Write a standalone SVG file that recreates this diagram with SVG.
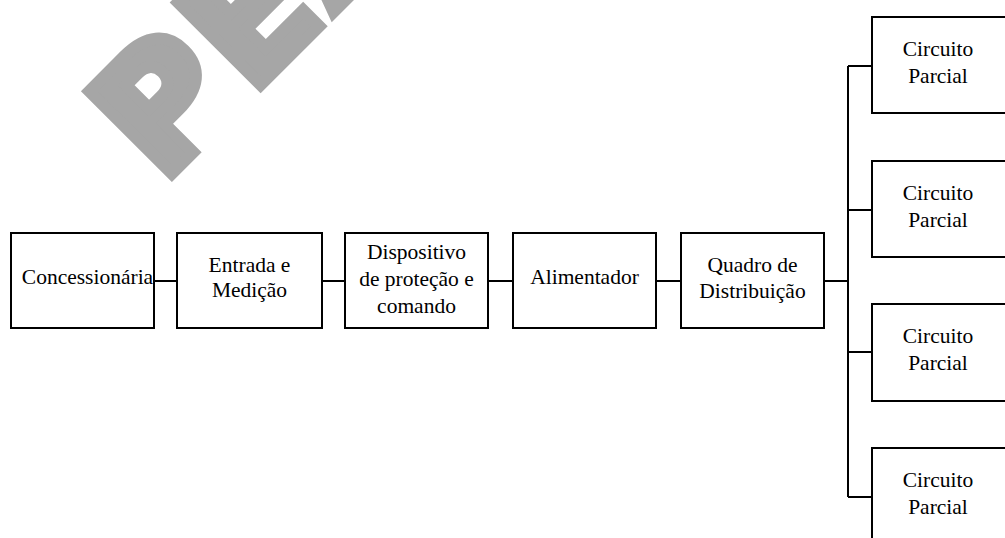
<svg xmlns="http://www.w3.org/2000/svg" width="1005" height="538" viewBox="0 0 1005 538">
<style>
.box{fill:#fff;stroke:#000;stroke-width:2}
.lbl{font-family:'Liberation Serif','DejaVu Serif','Noto Serif',serif;font-size:21.5px;fill:#000;text-anchor:middle}
.wire{fill:none;stroke:#000;stroke-width:2}
.wm{font-family:'DejaVu Sans',sans-serif;font-weight:bold;font-size:160px;fill:#a6a6a6;stroke:#a6a6a6;stroke-width:12;stroke-linejoin:miter;letter-spacing:8px}
</style>
<rect width="1005" height="538" fill="#fff"/>
<text class="wm" transform="translate(161.6,183.9) rotate(-45)">PEA</text>
<g id="connectors">
<path class="wire" d="M154,281H177M322,281H345M488,281H513M656,281H681M824,281H848"/>
<path class="wire" d="M848,66V497M848,66H872M848,210H872M848,352H872M848,497H872"/>
</g>
<g id="concessionaria">
<rect class="box" x="11" y="233" width="143" height="95"/>
<text class="lbl" font-family="Liberation Serif, serif" x="87.5" y="284">Concessionária</text>
</g>
<g id="entrada">
<rect class="box" x="177" y="233" width="145" height="95"/>
<text class="lbl" font-family="Liberation Serif, serif" x="249.5" y="272">Entrada e</text>
<text class="lbl" font-family="Liberation Serif, serif" x="249.5" y="297">Medição</text>
</g>
<g id="dispositivo">
<rect class="box" x="345" y="233" width="143" height="95"/>
<text class="lbl" font-family="Liberation Serif, serif" x="416.5" y="259">Dispositivo</text>
<text class="lbl" font-family="Liberation Serif, serif" x="416.5" y="286">de proteção e</text>
<text class="lbl" font-family="Liberation Serif, serif" x="416.5" y="313">comando</text>
</g>
<g id="alimentador">
<rect class="box" x="513" y="233" width="143" height="95"/>
<text class="lbl" font-family="Liberation Serif, serif" x="584.5" y="284">Alimentador</text>
</g>
<g id="quadro">
<rect class="box" x="681" y="233" width="143" height="95"/>
<text class="lbl" font-family="Liberation Serif, serif" x="752.5" y="272">Quadro de</text>
<text class="lbl" font-family="Liberation Serif, serif" x="752.5" y="298">Distribuição</text>
</g>
<g id="circuito1">
<rect class="box" x="872" y="17" width="145" height="96"/>
<text class="lbl" font-family="Liberation Serif, serif" x="938" y="56">Circuito</text>
<text class="lbl" font-family="Liberation Serif, serif" x="938" y="83">Parcial</text>
</g>
<g id="circuito2">
<rect class="box" x="872" y="161" width="145" height="96"/>
<text class="lbl" font-family="Liberation Serif, serif" x="938" y="200">Circuito</text>
<text class="lbl" font-family="Liberation Serif, serif" x="938" y="227">Parcial</text>
</g>
<g id="circuito3">
<rect class="box" x="872" y="304" width="145" height="97"/>
<text class="lbl" font-family="Liberation Serif, serif" x="938" y="343">Circuito</text>
<text class="lbl" font-family="Liberation Serif, serif" x="938" y="370">Parcial</text>
</g>
<g id="circuito4">
<rect class="box" x="872" y="448" width="145" height="100"/>
<text class="lbl" font-family="Liberation Serif, serif" x="938" y="487">Circuito</text>
<text class="lbl" font-family="Liberation Serif, serif" x="938" y="514">Parcial</text>
</g>
</svg>
